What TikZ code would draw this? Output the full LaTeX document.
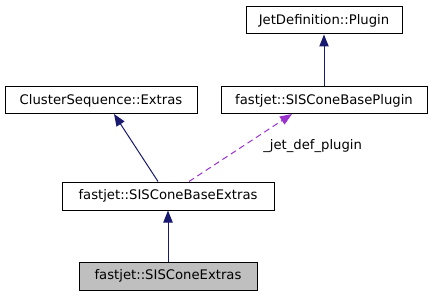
\documentclass[tikz,border=0pt]{standalone}
\usepackage{fontspec}
\setmainfont{DejaVu Sans}
\usetikzlibrary{arrows.meta}
\definecolor{edgeblue}{HTML}{191970}
\definecolor{edgepurple}{HTML}{9A32CD}
\definecolor{boxgrey}{HTML}{BFBFBF}
\tikzset{
  cls/.style={draw=black, line width=0.75pt, fill=white, inner sep=0pt, font=\fontsize{9.9pt}{11pt}\selectfont},
  inh/.style={draw=edgeblue, line width=0.75pt, -{Triangle[length=9pt,width=7pt]}},
  use/.style={draw=edgepurple, line width=0.75pt, dash pattern=on 4.5pt off 3pt, -{Triangle[length=9pt,width=7pt]}},
  lbl/.style={font=\fontsize{9.9pt}{11pt}\selectfont, inner sep=0pt}
}
\begin{document}
\begin{tikzpicture}[x=0.75pt,y=-0.75pt]
\useasboundingbox (0,0) rectangle (432,296);
\node[cls, minimum width=156*0.75pt, minimum height=27*0.75pt] (jdp) at (324,20.5) {JetDefinition::Plugin};
\node[cls, minimum width=192*0.75pt, minimum height=27*0.75pt] (cse) at (101,100.5) {ClusterSequence::Extras};
\node[cls, minimum width=206*0.75pt, minimum height=27*0.75pt] (sbp) at (324,100.5) {fastjet::SISConeBasePlugin};
\node[cls, minimum width=212*0.75pt, minimum height=28*0.75pt] (sbe) at (168,196) {fastjet::SISConeBaseExtras};
\node[cls, fill=boxgrey, minimum width=178*0.75pt, minimum height=28*0.75pt] (sce) at (168,276) {fastjet::SISConeExtras};
\draw[inh] (sbp.north) -- (jdp.south);
\draw[inh] (sbe.north -| 158,0) -- (114,114);
\draw[use] (sbe.north -| 189,0) -- (292,114);
\draw[inh] (sce.north) -- (sbe.south);
\node[lbl, anchor=west] (lab) at (263,146) {\_jet\_def\_plugin};
\end{tikzpicture}
\end{document}
